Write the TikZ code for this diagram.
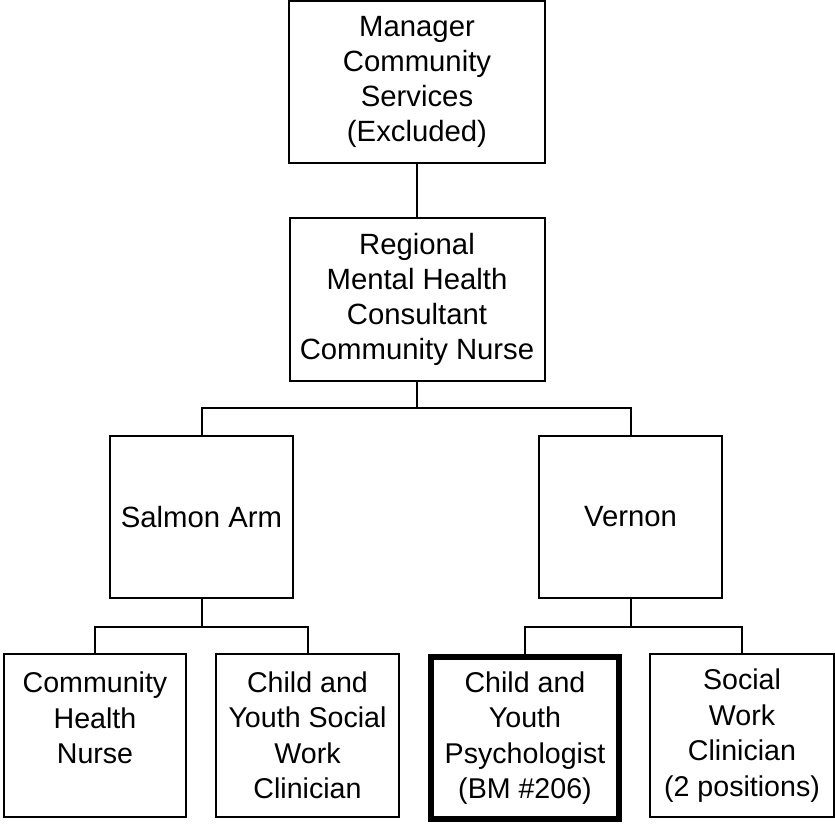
\documentclass[tikz,border=0pt]{standalone}
\usepackage{fontspec}
\setmainfont{Liberation Sans}
\begin{document}
\begin{tikzpicture}[x=1pt,y=-1pt,
  box/.style={draw,line width=2pt,align=center,inner sep=0pt,
    font=\fontsize{29.3}{35}\selectfont},
  lowbox/.style={box,font=\fontsize{28.6}{35.5}\selectfont},
  thickbox/.style={lowbox,line width=6pt},
  conn/.style={line width=2pt}]
\useasboundingbox (0,0) rectangle (835,824);
\node[box,minimum width=256,minimum height=162] (mgr) at (417,82) {Manager\\Community\\Services\\(Excluded)};
\node[box,minimum width=255,minimum height=163] (reg) at (417,299.5) {Regional\\Mental Health\\Consultant\\Community Nurse};
\node[box,minimum width=183,minimum height=162] (sa) at (201.5,517) {Salmon Arm};
\node[box,minimum width=183,minimum height=162] (ve) at (630.5,517) {Vernon};
\node[lowbox,minimum width=182,minimum height=163] (chn) at (95,735.5) {Community\\Health\\Nurse\\\mbox{}};
\node[lowbox,minimum width=183,minimum height=163] (cysw) at (307.5,735.5) {Child and\\Youth Social\\Work\\Clinician};
\node[thickbox,minimum width=188,minimum height=162] (psy) at (525,738) {Child and\\Youth\\Psychologist\\(BM \#206)};
\node[lowbox,minimum width=184,minimum height=163] (swc) at (742,735.5) {Social\\Work\\Clinician\\(2 positions)};
\coordinate (b1) at (reg.south |- 0,408);
\coordinate (b2) at (sa.south |- 0,627);
\coordinate (b3) at (ve.south |- 0,627);
\draw[conn] (mgr.south) -- (reg.north);
\draw[conn] (reg.south) -- (b1);
\draw[conn] (b1) -| (sa.north);
\draw[conn] (b1) -| (ve.north);
\draw[conn] (sa.south) -- (b2);
\draw[conn] (b2) -| (chn.north);
\draw[conn] (b2) -| (cysw.north);
\draw[conn] (ve.south) -- (b3);
\draw[conn] (b3) -| (psy.north);
\draw[conn] (b3) -| (swc.north);
\end{tikzpicture}
\end{document}
